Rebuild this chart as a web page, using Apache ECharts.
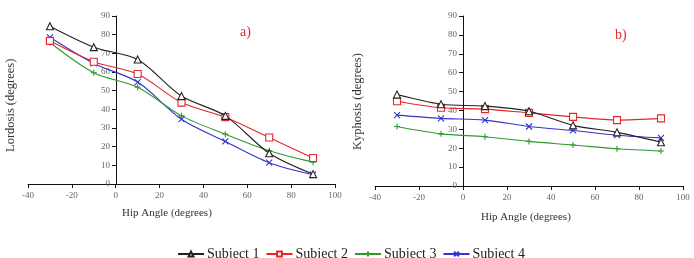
<!DOCTYPE html>
<html>
<head>
<meta charset="utf-8">
<script src="https://cdn.jsdelivr.net/npm/echarts@6/dist/echarts.min.js"></script>
<style>
  html, body { margin: 0; padding: 0; background: #fff; }
  #chart { width: 694px; height: 258px; }
</style>
</head>
<body>
<div id="chart"></div>
<script>
// hip angle positions
var hipAngles = [-30, -10, 10, 30, 50, 70, 90];
var subjects = ['Subject 1', 'Subject 2', 'Subject 3', 'Subject 4'];

// a) lordosis
var lordosis1 = [84.5, 73.3, 66.7, 47.1, 36.5, 16.5, 5.3];
var lordosis2 = [76.7, 65.5, 58.9, 43.6, 35.8, 24.9, 13.9];
var lordosis3 = [75.8, 59.6, 51.8, 36.5, 26.7, 17.8, 11.7];
var lordosis4 = [78.6, 64.6, 54.6, 34.7, 22.8, 11.4, 5.0];

// b) kyphosis
var kyphosis1 = [48.4, 43.3, 42.3, 39.6, 32.1, 28.4, 23.2];
var kyphosis2 = [44.9, 41.4, 40.7, 38.7, 36.6, 34.9, 35.8];
var kyphosis3 = [31.5, 27.6, 26.1, 23.6, 21.7, 19.7, 18.5];
var kyphosis4 = [37.5, 35.8, 34.9, 31.5, 29.4, 26.9, 25.5];

var colors = ['#222222', '#e5262b', '#2f9a2f', '#3434cc'];
var symbols = [
  'triangle',
  'rect',
  'path://M5,0L5,10M0,5L10,5',
  'path://M0,0L10,10M10,0L0,10'
];
var symbolSizes = [7, 7, 6, 6];

var serif = '"Liberation Serif", "DejaVu Serif", serif';

function pairs(values) {
  return hipAngles.map(function (x, i) { return [x, values[i]]; });
}

function makeSeries(idx, values, axisIdx) {
  return {
    name: subjects[idx],
    type: 'line',
    xAxisIndex: axisIdx,
    yAxisIndex: axisIdx,
    data: pairs(values),
    smooth: 0.3,
    symbol: symbols[idx],
    symbolSize: symbolSizes[idx],
    showAllSymbol: true,
    lineStyle: { color: colors[idx], width: 1.1 },
    itemStyle: {
      color: idx < 2 ? '#fff' : 'none',
      borderColor: colors[idx],
      borderWidth: 1.1
    },
    emphasis: { disabled: true },
    z: 10 - idx
  };
}

function xAxisFor(gridIdx) {
  return {
    type: 'value',
    gridIndex: gridIdx,
    min: -40,
    max: 100,
    interval: 20,
    axisLine: { onZero: true, lineStyle: { color: '#111', width: 1 } },
    axisTick: { show: true, length: 4, lineStyle: { color: '#111' } },
    axisLabel: { fontFamily: serif, fontSize: 9, color: '#666', margin: 7 },
    splitLine: { show: false }
  };
}

// y axis sits on x = 0, shifted right from the grid's left edge
function yAxisFor(gridIdx, shift) {
  return {
    type: 'value',
    gridIndex: gridIdx,
    min: 0,
    max: 90,
    interval: 10,
    offset: -shift,
    axisLine: { show: true, onZero: false, lineStyle: { color: '#111', width: 1 } },
    axisTick: { show: true, length: 4, lineStyle: { color: '#111' } },
    axisLabel: { fontFamily: serif, fontSize: 9, color: '#666', margin: 6 },
    splitLine: { show: false }
  };
}

var chart = echarts.init(document.getElementById('chart'), null, { renderer: 'canvas' });

chart.setOption({
  animation: false,
  backgroundColor: '#fff',
  grid: [
    { left: 28, top: 16, width: 307, height: 168 },
    { left: 375, top: 16, width: 308, height: 170 }
  ],
  xAxis: [xAxisFor(0), xAxisFor(1)],
  yAxis: [yAxisFor(0, 88), yAxisFor(1, 88)],
  legend: {
    data: subjects,
    left: 172,
    top: 242,
    itemWidth: 26,
    itemHeight: 6,
    itemGap: 6,
    textStyle: { fontFamily: serif, fontSize: 14, color: '#2a2020', padding: [0, 0, 0, -2] }
  },
  graphic: [
    { type: 'text', left: 240, top: 25, style: { text: 'a)', font: '14px ' + serif, fill: '#e5262b' } },
    { type: 'text', left: 615, top: 28, style: { text: 'b)', font: '14px ' + serif, fill: '#e5262b' } },
    { type: 'text', x: 122, y: 208, style: { text: 'Hip Angle (degrees)', font: '11px ' + serif, fill: '#333' } },
    { type: 'text', x: 481, y: 212, style: { text: 'Hip Angle (degrees)', font: '11px ' + serif, fill: '#333' } },
    { type: 'text', x: 4, y: 152, rotation: Math.PI / 2, style: { text: 'Lordosis (degrees)', font: '12.5px ' + serif, fill: '#333' } },
    { type: 'text', x: 351, y: 150, rotation: Math.PI / 2, style: { text: 'Kyphosis (degrees)', font: '12.5px ' + serif, fill: '#333' } }
  ],
  series: [
    makeSeries(0, lordosis1, 0),
    makeSeries(1, lordosis2, 0),
    makeSeries(2, lordosis3, 0),
    makeSeries(3, lordosis4, 0),
    makeSeries(0, kyphosis1, 1),
    makeSeries(1, kyphosis2, 1),
    makeSeries(2, kyphosis3, 1),
    makeSeries(3, kyphosis4, 1)
  ]
});
</script>
</body>
</html>
